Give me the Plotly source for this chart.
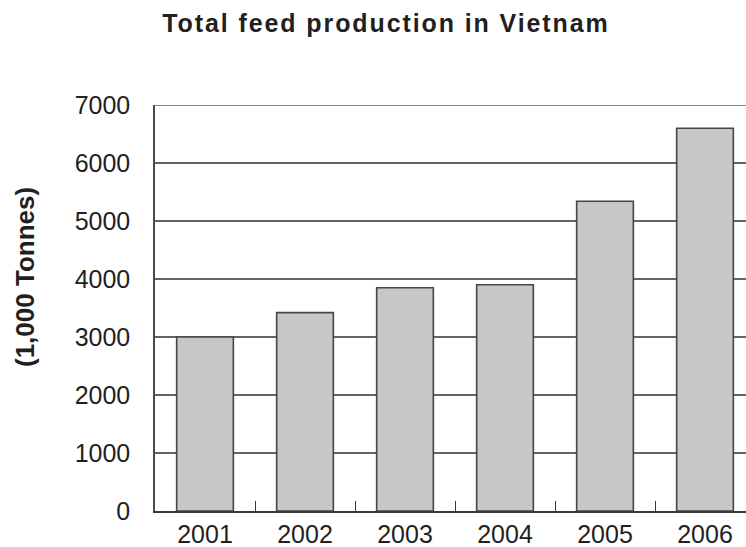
import plotly.graph_objects as go

# Total feed production in Vietnam, thousand tonnes per year
years = ["2001", "2002", "2003", "2004", "2005", "2006"]
production = [3000, 3420, 3850, 3900, 5340, 6600]
y_ticks = [0, 1000, 2000, 3000, 4000, 5000, 6000, 7000]

W, H = 746, 547
ML, MR, MT, MB = 155, 0, 105, 36
TEXT = "#231f20"
GRID = "#646464"
FONT = "Liberation Sans, Arial, Helvetica, sans-serif"

fig = go.Figure(
    go.Bar(
        x=years,
        y=production,
        marker=dict(color="#c6c7c9", line=dict(color="#464648", width=1.6)),
        hoverinfo="skip",
    )
)

plot_w = W - ML - MR
plot_h = H - MT - MB

fig.update_layout(
    width=W,
    height=H,
    margin=dict(l=ML, r=MR, t=MT, b=MB, pad=0, autoexpand=False),
    paper_bgcolor="white",
    plot_bgcolor="white",
    bargap=0.433,
    showlegend=False,
    font=dict(family=FONT, color=TEXT, size=25),
    title=dict(
        text='<span style="letter-spacing:1.9px"><b>Total feed production in Vietnam</b></span>',
        font=dict(family=FONT, size=25, color=TEXT),
        xref="container",
        yref="container",
        x=386 / W,
        xanchor="center",
        y=1 - 23 / H,
        yanchor="middle",
    ),
    xaxis=dict(
        type="category",
        range=[-0.5, -0.5 + plot_w / 100.0],
        automargin=False,
        showline=True,
        linecolor="#3a3a3a",
        linewidth=1.5,
        ticks="inside",
        tickson="boundaries",
        ticklen=10,
        tickwidth=1.3,
        tickcolor="#3a3a3a",
        showgrid=False,
        tickfont=dict(size=25, color=TEXT),
        ticklabelstandoff=0,
        fixedrange=True,
    ),
    yaxis=dict(
        range=[0, 7000],
        automargin=False,
        tickvals=y_ticks,
        ticktext=[str(v) for v in y_ticks],
        showline=True,
        linecolor="#4a4a4a",
        linewidth=1.5,
        ticks="",
        showgrid=True,
        gridcolor=GRID,
        gridwidth=1.6,
        zeroline=False,
        tickfont=dict(size=25, color=TEXT),
        ticklabelstandoff=18,
        fixedrange=True,
    ),
    # the 7000 gridline sits on the upper edge of the plot area
    shapes=[
        dict(
            type="line",
            xref="paper",
            yref="y",
            x0=0,
            x1=1,
            y0=y_ticks[-1],
            y1=y_ticks[-1],
            line=dict(color=GRID, width=1.6),
            layer="below",
        )
    ],
    annotations=[
        dict(
            text="<b>(1,000 Tonnes)</b>",
            xref="paper",
            yref="paper",
            x=(25 - ML) / plot_w,
            y=(H - MB - 277) / plot_h,
            xanchor="center",
            yanchor="middle",
            textangle=-90,
            showarrow=False,
            font=dict(family=FONT, size=26, color=TEXT),
        )
    ],
)

fig.write_html("out.html")
